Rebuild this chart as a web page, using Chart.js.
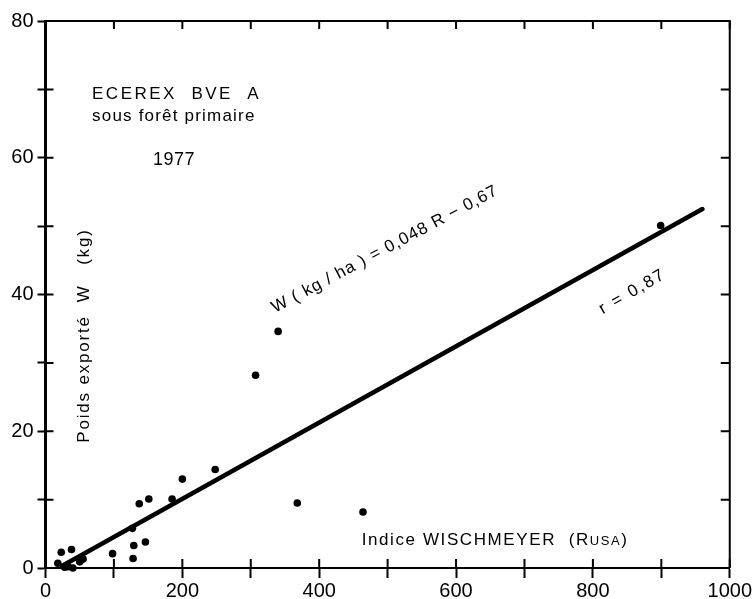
<!DOCTYPE html>
<html>
<head>
<meta charset="utf-8">
<script src="https://cdn.jsdelivr.net/npm/chart.js@4"></script>
<style>
  body { margin: 0; background: #fff; }
  canvas { display: block; }
</style>
</head>
<body>
<canvas id="wisch" width="753" height="599"></canvas>
<script>
// Indice Wischmeyer (R) vs poids exporté W (kg), ECEREX BVE A, 1977
const rusa = [18, 23, 38, 28, 33, 40, 50, 55, 98, 127, 128, 129, 146, 137, 151, 185, 200, 248, 307, 340, 368, 464, 899];
const poids = [0.7, 2.3, 2.7, 0.1, 0.2, 0, 0.9, 1.3, 2.1, 5.8, 1.4, 3.3, 3.8, 9.4, 10.1, 10.1, 13.0, 14.4, 28.2, 34.6, 9.5, 8.2, 50.1];

// ends of the fitted line as drawn
const droiteR = [24, 960];
const droiteW = [0.3, 52.5];

const xTicks = [0, 200, 400, 600, 800, 1000];
const yTicks = [0, 20, 40, 60, 80];

const tickFont = { family: 'Liberation Sans, Arial, sans-serif', size: 20 };
const txtFamily = 'Liberation Sans, Arial, sans-serif';

// write a label, optionally rotated, with a bit of extra tracking
function label(ctx, text, px, py, opts = {}) {
  ctx.save();
  ctx.translate(px, py);
  if (opts.angle) ctx.rotate(opts.angle * Math.PI / 180);
  ctx.font = (opts.size || 17) + 'px ' + txtFamily;
  ctx.letterSpacing = (opts.spacing != null ? opts.spacing : 1.5) + 'px';
  ctx.textAlign = opts.align || 'left';
  ctx.textBaseline = 'middle';
  ctx.fillText(text, 0, 0);
  const w = ctx.measureText(text).width;
  ctx.restore();
  return w;
}

// inward half of the crossing ticks, plus the top and right frame and the notes
const frame = {
  id: 'frame',
  afterDraw(chart) {
    const { ctx, chartArea: a, scales: { x, y } } = chart;
    ctx.save();
    ctx.strokeStyle = '#000';
    ctx.lineWidth = 2;
    ctx.beginPath();
    ctx.moveTo(a.left, a.top); ctx.lineTo(a.right, a.top); ctx.lineTo(a.right, a.bottom);
    ctx.stroke();
    for (let v = 0; v <= 1000; v += 100) {
      const px = x.getPixelForValue(v);
      ctx.beginPath();
      ctx.moveTo(px, a.bottom); ctx.lineTo(px, a.bottom - 9);
      ctx.moveTo(px, a.top); ctx.lineTo(px, a.top + 8);
      ctx.stroke();
    }
    for (let v = 0; v <= 80; v += 10) {
      const py = y.getPixelForValue(v);
      ctx.beginPath();
      ctx.moveTo(a.left, py); ctx.lineTo(a.left + 8, py);
      ctx.moveTo(a.right, py); ctx.lineTo(a.right - 9, py);
      ctx.stroke();
    }
    ctx.restore();

    ctx.fillStyle = '#000';
    const at = (r, w) => [x.getPixelForValue(r), y.getPixelForValue(w)];

    label(ctx, 'ECEREX  BVE  A', ...at(68, 69.3), { spacing: 2.5 });
    label(ctx, 'sous forêt primaire', ...at(68, 66.1), { spacing: 1.2 });
    label(ctx, '1977', ...at(157, 59.6), { size: 18, spacing: 0.5 });

    // Indice WISCHMEYER (Rusa) with small caps
    let [tx, ty] = at(462, 4.1);
    tx += label(ctx, 'Indice WISCHMEYER  (R', tx, ty, { spacing: 1.6 });
    tx += label(ctx, 'USA', tx, ty + 1, { size: 13, spacing: 1.6 });
    label(ctx, ')', tx, ty, { spacing: 1.6 });

    label(ctx, 'Poids exporté  W   (kg)', ...at(57, 34), { angle: -90, align: 'center', spacing: 1.8 });
    label(ctx, 'W ( kg / ha ) = 0,048 R − 0,67', ...at(496, 46.6), { angle: -28, align: 'center', spacing: 1 });
    label(ctx, 'r = 0,87', ...at(858, 40.4), { angle: -30, align: 'center', spacing: 2 });
  }
};

new Chart(
  document.getElementById('wisch'),
  {
    type: 'scatter',
    data: {
      datasets: [
        {
          label: 'Mesures',
          data: rusa.map((r, i) => ({ x: r, y: poids[i] })),
          pointRadius: 3.8,
          pointBackgroundColor: '#000',
          pointBorderWidth: 0,
          clip: false
        },
        {
          label: 'Droite',
          data: droiteR.map((r, i) => ({ x: r, y: droiteW[i] })),
          showLine: true,
          borderColor: '#000',
          borderWidth: 4.5,
          pointRadius: 0,
          borderCapStyle: 'round'
        }
      ]
    },
    options: {
      responsive: false,
      animation: false,
      layout: { padding: { top: 21, right: 20, left: 0, bottom: 0 } },
      plugins: {
        legend: { display: false },
        tooltip: { enabled: false }
      },
      scales: {
        x: {
          type: 'linear',
          min: 0,
          max: 1000,
          afterFit: s => { s.height = 31; },
          ticks: {
            stepSize: 100,
            autoSkip: false,
            maxRotation: 0,
            padding: 1,
            color: '#000',
            font: tickFont,
            callback: v => xTicks.includes(v) ? String(v) : ''
          },
          grid: { drawOnChartArea: false, tickLength: 10, tickColor: '#000', tickWidth: 2 },
          border: { color: '#000', width: 2 }
        },
        y: {
          min: 0,
          max: 80,
          afterFit: s => { s.width = 45.5; },
          ticks: {
            stepSize: 10,
            autoSkip: false,
            padding: 4,
            color: '#000',
            font: tickFont,
            callback: v => yTicks.includes(v) ? String(v) : ''
          },
          grid: { drawOnChartArea: false, tickLength: 8, tickColor: '#000', tickWidth: 2 },
          border: { color: '#000', width: 3 }
        }
      }
    },
    plugins: [frame]
  }
);
</script>
</body>
</html>
